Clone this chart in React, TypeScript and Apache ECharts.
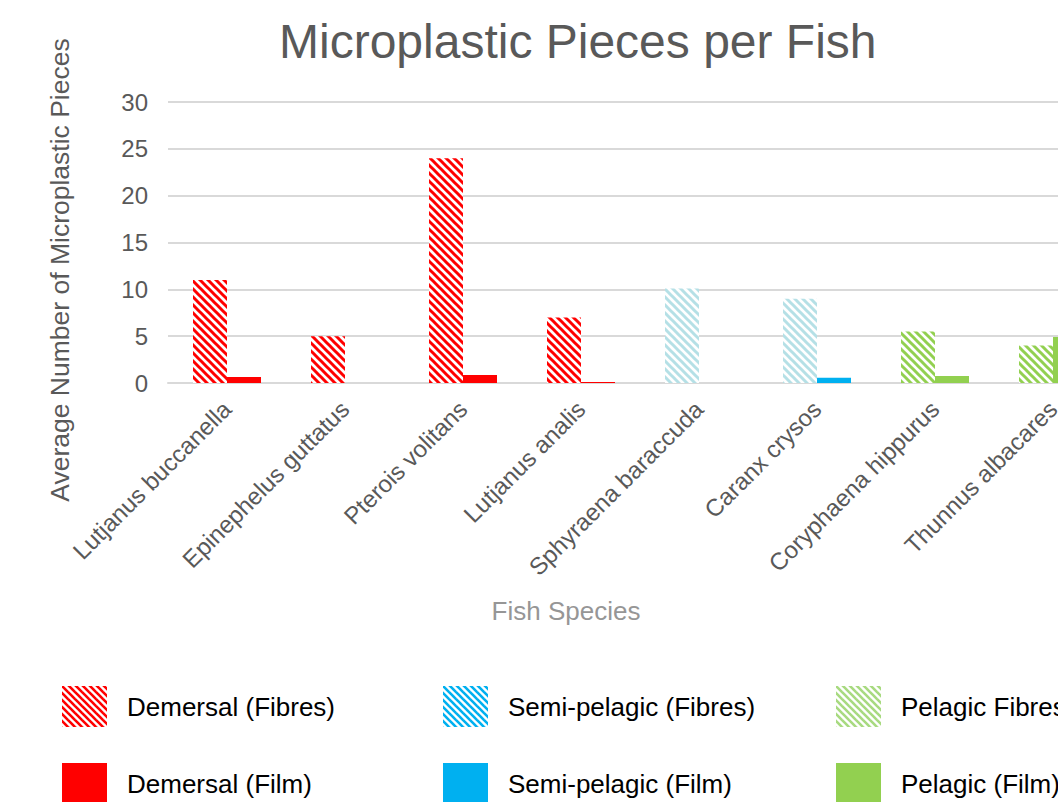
import React, { useEffect, useRef } from "react";
import * as echarts from "echarts";

const categories = [
  "Lutjanus buccanella",
  "Epinephelus guttatus",
  "Pterois volitans",
  "Lutjanus analis",
  "Sphyraena baraccuda",
  "Caranx crysos",
  "Coryphaena hippurus",
  "Thunnus albacares",
];

const demersalFibres = [11, 5, 24, 7, null, null, null, null];
const demersalFilm = [0.65, null, 0.85, 0.1, null, null, null, null];
const semiPelagicFibres = [null, null, null, null, 10.1, 9, null, null];
const semiPelagicFilm = [null, null, null, null, null, 0.55, null, null];
const pelagicFibres = [null, null, null, null, null, null, 5.5, 4];
const pelagicFilm = [null, null, null, null, null, null, 0.75, 4.9];

const yTicks = { min: 0, max: 30, interval: 5 };

const FONT = "'Liberation Sans', Arial, sans-serif";

function stripe(color: string, size: number, lw: number) {
  const c = document.createElement("canvas");
  c.width = size;
  c.height = size;
  const ctx = c.getContext("2d")!;
  ctx.fillStyle = "#ffffff";
  ctx.fillRect(0, 0, size, size);
  ctx.strokeStyle = color;
  ctx.lineWidth = lw;
  for (let k = -1; k <= 1; k++) {
    ctx.beginPath();
    ctx.moveTo(k * size - 2, -2);
    ctx.lineTo(k * size + size + 2, size + 2);
    ctx.stroke();
  }
  return { image: c, repeat: "repeat", imageWidth: size, imageHeight: size } as any;
}

export default function App() {
  const ref = useRef<HTMLDivElement>(null);
  useEffect(() => {
    if (!ref.current) return;
    const chart = echarts.init(ref.current, null, { renderer: "svg" });
    const redStripe = stripe("#ff0000", 8, 3);
    const cyanStripe = stripe("#b5e0e6", 8, 3);
    const greenStripe = stripe("#92d050", 8, 3);
    const legRed = stripe("#ff0000", 7, 2.6);
    const legBlue = stripe("#00b0f0", 7, 2.6);
    const legGreen = stripe("#a8da80", 7, 2.6);

    const barBase = { type: "bar", barWidth: 34, barGap: "0%" };
    const legendBase = {
      orient: "vertical",
      top: 681,
      height: 200,
      itemWidth: 45,
      itemHeight: 41,
      itemGap: 36,
      icon: "rect",
      selectedMode: false,
      textStyle: { fontSize: 26, color: "#000000", fontFamily: FONT, padding: [0, 0, 0, 15] },
    };

    chart.setOption({
      animation: false,
      title: {
        text: "Microplastic Pieces per Fish",
        left: 274,
        top: 12,
        textStyle: { fontSize: 48, fontWeight: "normal", color: "#595959", fontFamily: FONT },
      },
      grid: { left: 168, top: 102, height: 281, right: 88 },
      legend: [
        {
          ...legendBase,
          left: 57,
          data: [
            { name: "Demersal (Fibres)", itemStyle: { color: legRed } },
            { name: "Demersal (Film)", itemStyle: { color: "#ff0000" } },
          ],
        },
        {
          ...legendBase,
          left: 438,
          data: [
            { name: "Semi-pelagic (Fibres)", itemStyle: { color: legBlue } },
            { name: "Semi-pelagic (Film)", itemStyle: { color: "#00b0f0" } },
          ],
        },
        {
          ...legendBase,
          left: 831,
          data: [
            { name: "Pelagic Fibres", itemStyle: { color: legGreen } },
            { name: "Pelagic (Film)", itemStyle: { color: "#92d050" } },
          ],
        },
      ],
      xAxis: {
        type: "category",
        data: categories,
        axisTick: { show: false },
        axisLine: { lineStyle: { color: "#d9d9d9", width: 2 } },
        axisLabel: {
          rotate: 45,
          interval: 0,
          margin: 22,
          fontSize: 24,
          color: "#595959",
          fontFamily: FONT,
        },
      },
      yAxis: {
        type: "value",
        min: yTicks.min,
        max: yTicks.max,
        interval: yTicks.interval,
        axisLine: { show: false },
        axisTick: { show: false },
        splitLine: { lineStyle: { color: "#d9d9d9", width: 2 } },
        axisLabel: { margin: 20, fontSize: 24, color: "#595959", fontFamily: FONT },
      },
      graphic: [
        {
          type: "text",
          x: 60,
          y: 270,
          rotation: Math.PI / 2,
          style: {
            text: "Average Number of Microplastic Pieces",
            fontSize: 26.5,
            fill: "#595959",
            fontFamily: FONT,
            align: "center",
            verticalAlign: "middle",
          },
        },
        {
          type: "text",
          x: 566,
          y: 611,
          style: {
            text: "Fish Species",
            fontSize: 26,
            fill: "#969696",
            fontFamily: FONT,
            align: "center",
            verticalAlign: "middle",
          },
        },
      ],
      series: [
        { ...barBase, name: "Demersal (Fibres)", stack: "fibres", data: demersalFibres, itemStyle: { color: redStripe } },
        { ...barBase, name: "Demersal (Film)", stack: "film", data: demersalFilm, itemStyle: { color: "#ff0000" } },
        { ...barBase, name: "Semi-pelagic (Fibres)", stack: "fibres", data: semiPelagicFibres, itemStyle: { color: cyanStripe } },
        { ...barBase, name: "Semi-pelagic (Film)", stack: "film", data: semiPelagicFilm, itemStyle: { color: "#00b0f0" } },
        { ...barBase, name: "Pelagic Fibres", stack: "fibres", data: pelagicFibres, itemStyle: { color: greenStripe } },
        { ...barBase, name: "Pelagic (Film)", stack: "film", data: pelagicFilm, itemStyle: { color: "#92d050" } },
      ],
    });
    return () => chart.dispose();
  }, []);
  return (
    <div style={{ position: "fixed", left: 0, top: 0, width: 1058, height: 802, overflow: "hidden", background: "#fff" }}>
      <div ref={ref} style={{ width: 1200, height: 920 }} />
    </div>
  );
}
